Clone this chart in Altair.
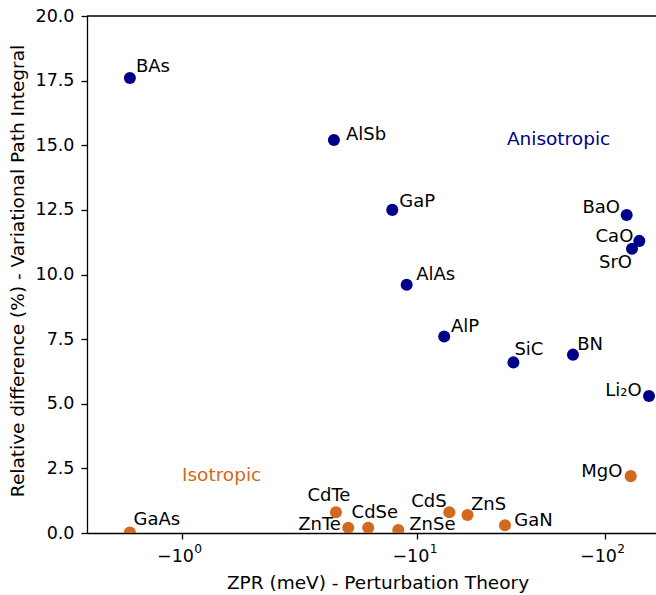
import math

import altair as alt
import pandas as pd

# ---------------------------------------------------------------- data
MATERIALS = ["BAs", "AlSb", "GaP", "AlAs", "AlP", "SiC", "BN", "Li₂O", "BaO", "CaO", "SrO",
             "GaAs", "CdTe", "ZnTe", "CdSe", "ZnSe", "CdS", "ZnS", "GaN", "MgO"]
ZPR_MEV = [-0.50, -3.59, -7.35, -8.77, -13.9, -32.5, -67.5, -171.6, -130.5, -152.4, -139.3,
           -0.50, -3.68, -4.28, -5.47, -7.91, -14.8, -18.5, -29.3, -137.1]
REL_DIFF = [17.6, 15.2, 12.5, 9.6, 7.6, 6.6, 6.9, 5.3, 12.3, 11.3, 11.0,
            0.02, 0.8, 0.2, 0.2, 0.12, 0.8, 0.7, 0.3, 2.2]
CLASS = ["Anisotropic"] * 11 + ["Isotropic"] * 9

CLASS_NAMES = ["Anisotropic", "Isotropic"]
CLASS_COLORS = ["#00008b", "#d2691e"]
CLASS_TEXT_ZPR = [-30.0, -1.0]
CLASS_TEXT_Y = [15.0, 2.0]

X_TICK_ZPR = [-1, -10, -100]
X_TICK_BASE = "−10"
X_TICK_EXP = ["0", "1", "2"]
Y_TICKS = [0, 2.5, 5, 7.5, 10, 12.5, 15, 17.5, 20]

# ---------------------------------------------------------------- label placement
# pixel offsets of each name from its marker (dy > 0 is downward) and text anchor
LABEL_DX = [6, 12, 7, 9.5, 6.7, 1, 4.3, -7.3, -6.7, -6, 0,
            3.6, -7, -7.3, -16.6, 11, -2.6, 3.4, 9.3, -8.4]
LABEL_DY = [-6, 0, -2.5, -5, -5, -7.3, -4.3, 0, -2.3, 1, 19.5,
            -7, -11.6, 2.3, -9.4, 0, -5, -5.3, 0.7, 1.3]
LABEL_ALIGN = ["left", "left", "left", "left", "left", "left", "left", "right", "right", "right", "right",
               "left", "center", "right", "left", "left", "right", "left", "left", "right"]

# ---------------------------------------------------------------- symmetric-log axis
LINTHRESH = 2.0
LINSCALE_ADJ = 1.0 / (1.0 - 1.0 / 10.0)


def symlog(v):
    m = abs(v)
    if m <= LINTHRESH:
        return m * LINSCALE_ADJ
    return LINTHRESH * (LINSCALE_ADJ + math.log10(m / LINTHRESH))


SYMLOG_EXPR = (
    f"abs(datum.zpr) <= {LINTHRESH} ? abs(datum.zpr) * {LINSCALE_ADJ} : "
    f"{LINTHRESH} * ({LINSCALE_ADJ} + log(abs(datum.zpr) / {LINTHRESH}) / LN10)"
)

PLOT_W, PLOT_H = 569, 517
X_DOMAIN = [0.0984, 6.1639]
Y_DOMAIN = [0, 20]
PX_PER_U = PLOT_W / (X_DOMAIN[1] - X_DOMAIN[0])
PX_PER_Y = PLOT_H / (Y_DOMAIN[1] - Y_DOMAIN[0])

FONT = "DejaVu Sans"
TICK_FONT_SIZE = 17.5

tick_pos = [symlog(v) for v in X_TICK_ZPR]

df = pd.DataFrame({
    "name": MATERIALS, "zpr": ZPR_MEV, "rel": REL_DIFF, "cls": CLASS,
    "dx": LABEL_DX, "dy": LABEL_DY, "align": LABEL_ALIGN,
})
df_cls = pd.DataFrame({"cls": CLASS_NAMES, "zpr": CLASS_TEXT_ZPR, "rel": CLASS_TEXT_Y})
df_ticks = pd.DataFrame({"zpr": X_TICK_ZPR, "exp": X_TICK_EXP})

x_scale = alt.Scale(domain=X_DOMAIN, nice=False, zero=False)
y_scale = alt.Scale(domain=Y_DOMAIN, nice=False, zero=False)
x_axis = alt.Axis(
    values=tick_pos, labelExpr=f"'{X_TICK_BASE}'", title="ZPR (meV) - Perturbation Theory",
    labelBaseline="alphabetic", labelPadding=22.5, labelAlign="right", labelOffset=11.5,
    titleX=290.5, titleY=55, titleAlign="center", titleBaseline="alphabetic",
)
y_axis = alt.Axis(
    values=Y_TICKS, format=".1f", title="Relative difference (%) - Variational Path Integral",
    labelPadding=7,
    titleX=-63.5, titleY=254.5, titleAngle=270, titleAlign="center", titleBaseline="alphabetic",
)
color = alt.Color("cls:N", scale=alt.Scale(domain=CLASS_NAMES, range=CLASS_COLORS), legend=None)


def xenc(field):
    return alt.X(field, type="quantitative", scale=x_scale, axis=x_axis)


def yenc(field):
    return alt.Y(field, type="quantitative", scale=y_scale, axis=y_axis)


base = alt.Chart(df).transform_calculate(u=SYMLOG_EXPR)

points = base.mark_circle(size=145, opacity=1, clip=True).encode(
    x=xenc("u"), y=yenc("rel"), color=color
)

labels = []
for a in ["left", "right", "center"]:
    labels.append(
        base.transform_filter(alt.datum.align == a)
        .transform_calculate(
            lx=f"datum.u + datum.dx / {PX_PER_U}",
            ly=f"datum.rel - datum.dy / {PX_PER_Y}",
        )
        .mark_text(align=a, baseline="alphabetic", font=FONT, fontSize=18, color="black")
        .encode(x=xenc("lx"), y=yenc("ly"), text="name:N")
    )

class_text = (
    alt.Chart(df_cls)
    .transform_calculate(u=SYMLOG_EXPR)
    .mark_text(align="left", baseline="alphabetic", font=FONT, fontSize=18.5)
    .encode(x=xenc("u"), y=yenc("rel"), text="cls:N", color=color)
)

# exponents of the decade tick labels, set as raised smaller text
tick_exponents = (
    alt.Chart(df_ticks)
    .transform_calculate(u=SYMLOG_EXPR)
    .mark_text(align="left", baseline="alphabetic", font=FONT, fontSize=TICK_FONT_SIZE * 0.7,
               color="black", dx=12.3)
    .encode(x=xenc("u"), y=alt.value(PLOT_H + 20), text="exp:N")
)

top_spine = alt.Chart(pd.DataFrame({"k": [0]})).mark_rule(color="black", strokeWidth=1.3).encode(
    x=alt.value(0), x2=alt.value(PLOT_W), y=alt.value(0)
)

chart = (
    alt.layer(points, *labels, class_text, tick_exponents, top_spine)
    .properties(
        width=PLOT_W, height=PLOT_H,
        autosize=alt.AutoSizeParams(type="none"),
        padding={"left": 87, "top": 16, "right": 0, "bottom": 62},
        background="white",
    )
    .configure_view(stroke=None)
    .configure_axis(
        grid=False, zindex=1,
        domainColor="black", domainWidth=1.3,
        tickColor="black", tickWidth=1.3, tickSize=6,
        labelFont=FONT, labelFontSize=TICK_FONT_SIZE, labelColor="black",
        titleFont=FONT, titleFontSize=18.5, titleFontWeight="normal", titleColor="black",
    )
)

chart.save("out.html", embed_options={"renderer": "svg", "actions": False})
